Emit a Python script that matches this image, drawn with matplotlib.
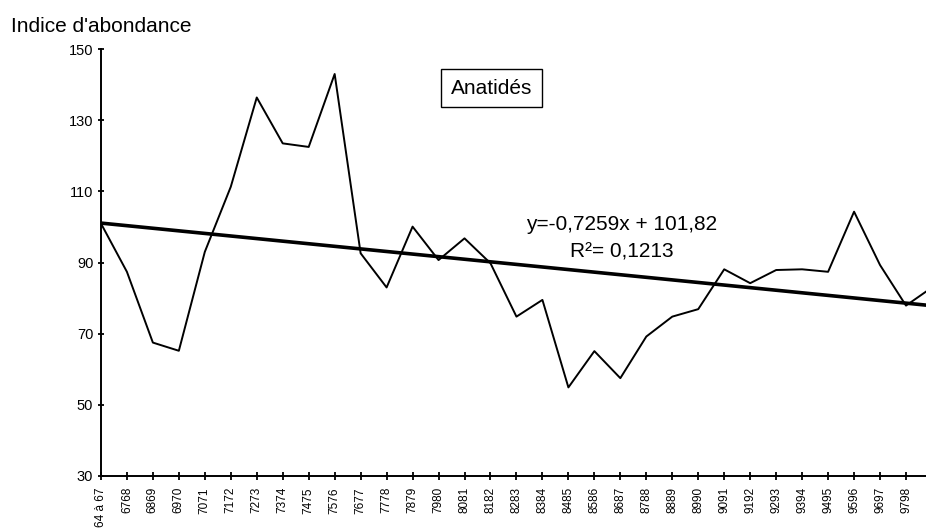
import numpy as np
import matplotlib
matplotlib.use('Agg')
import matplotlib.pyplot as plt

plt.rcParams['font.family'] = ['Liberation Sans', 'DejaVu Sans']

# Seasons (winter counts) and abundance index
seasons = ['64 à 67', '6768', '6869', '6970', '7071', '7172', '7273', '7374',
           '7475', '7576', '7677', '7778', '7879', '7980', '8081', '8182',
           '8283', '8384', '8485', '8586', '8687', '8788', '8889', '8990',
           '9091', '9192', '9293', '9394', '9495', '9596', '9697', '9798',
           '9899']
index = [101.0, 87.4, 67.5, 65.2, 93.0, 111.3, 136.4, 123.5,
         122.5, 143.0, 92.6, 83.0, 100.1, 90.7, 96.8, 89.8,
         74.8, 79.5, 54.9, 65.1, 57.5, 69.2, 74.8, 76.9,
         88.1, 84.2, 87.9, 88.1, 87.4, 104.3, 89.3, 77.9,
         83.0]

# linear trend as printed on the chart (x = 1, 2, ...)
slope = -0.7259
intercept = 101.82

fig = plt.figure(figsize=(9.26, 5.28), dpi=100)
ax = fig.add_axes([0.109, 0.0985, 0.891, 0.8085])

x = np.arange(len(seasons))
ax.plot(x, index, color='black', lw=1.4, zorder=3)

xt = np.array([-1, len(seasons)])
ax.plot(xt, slope * (xt + 1) + intercept, color='black', lw=2.6, zorder=4)

ax.set_xlim(0, 31.77)
ax.set_ylim(30, 150)
ax.set_yticks([30, 50, 70, 90, 110, 130, 150])
# last season lies past the cropped right edge: no tick label for it
ax.set_xticks(x[:-1])
ax.set_xticklabels(seasons[:-1], rotation=90, fontsize=8.5)

for s in ['top', 'right']:
    ax.spines[s].set_visible(False)
for s in ['left', 'bottom']:
    ax.spines[s].set_linewidth(1.4)
    ax.spines[s].set_clip_on(False)

ax.tick_params(axis='y', direction='inout', length=5, width=1.3, pad=3, labelsize=10.5)
ax.tick_params(axis='x', direction='inout', length=6, width=1.3, pad=5)

fig.text(11 / 926, 1 - 27 / 528, "Indice d'abondance", fontsize=15, va='center', ha='left')

fig.text(491.5 / 926, 1 - 88 / 528, 'Anatidés', fontsize=15, ha='center', va='center',
         bbox=dict(boxstyle='square,pad=0.45', fc='white', ec='black', lw=1.0))

fig.text(622 / 926, 1 - 225 / 528, 'y=-0,7259x + 101,82', fontsize=15, ha='center', va='center')
fig.text(621.5 / 926, 1 - 252 / 528, 'R²= 0,1213', fontsize=15, ha='center', va='center')

fig.savefig('out.png', dpi=100)
